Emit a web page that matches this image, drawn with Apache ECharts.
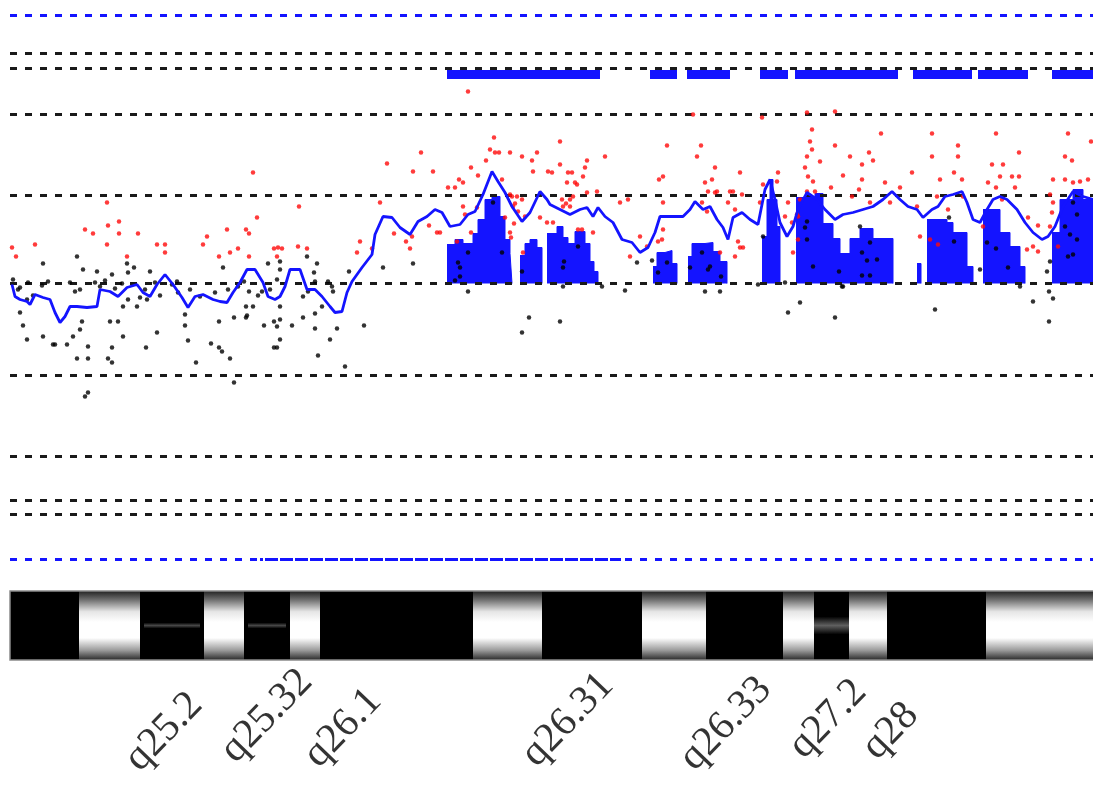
<!DOCTYPE html>
<html>
<head>
<meta charset="utf-8">
<title>3q aCGH</title>
<script src="https://cdn.jsdelivr.net/npm/echarts@6/dist/echarts.min.js"></script>
<style>
  html, body { margin: 0; padding: 0; background: #fff; }
  #chart { width: 1093px; height: 789px; }
</style>
</head>
<body>
<div id="chart"></div>
<script>
// x: probe position (arbitrary units along the region), y: log ratio (arbitrary units)
const thresholds = [2.30, 2.15, 1.69, 0.88, 0, -0.92, -1.73, -2.17, -2.31];
const limits = [2.68, -2.76];
const xStart = 1.0;
const xEnd = 109.3;

// aberration calls (blue bars at the top)
const callStarts = [44.7, 65.0, 68.7, 76.0, 79.5, 91.3, 97.8, 105.2];
const callEnds = [60.0, 67.7, 73.0, 78.8, 89.8, 97.2, 102.8, 109.3];
const callLevel = 2.09;

// moving average
const avgLine = [
  [1.2,-0.01],[1.5,-0.13],[2.0,-0.16],[2.7,-0.18],[3.0,-0.21],[3.5,-0.11],[4.3,-0.14],[5.0,-0.16],[5.5,-0.29],[6.0,-0.39],
  [6.5,-0.33],[7.0,-0.23],[7.7,-0.23],[8.7,-0.24],[9.7,-0.23],[10.0,-0.06],[11.0,-0.08],[11.8,-0.13],[12.7,-0.04],[13.7,-0.01],
  [14.3,-0.09],[15.0,-0.13],[15.7,-0.01],[16.5,0.09],[17.3,-0.01],[18.2,-0.14],[18.8,-0.24],[19.5,-0.13],[20.3,-0.11],[21.3,-0.16],
  [22.0,-0.18],[22.7,-0.19],[23.3,-0.09],[24.0,0.01],[24.7,0.14],[25.5,0.14],[26.3,0.01],[26.8,-0.13],[27.5,-0.16],[28.0,-0.13],
  [28.5,-0.03],[29.0,0.14],[30.0,0.14],[30.7,-0.06],[31.5,-0.06],[32.2,-0.13],[33.0,-0.23],[33.5,-0.29],[34.2,-0.28],[34.7,-0.09],
  [35.2,0.02],[36.2,0.16],[37.2,0.29],[37.5,0.49],[38.3,0.67],[39.2,0.66],[40.0,0.56],[41.0,0.49],[41.8,0.62],[42.7,0.67],
  [43.5,0.74],[44.2,0.71],[45.0,0.57],[46.0,0.59],[46.8,0.69],[47.5,0.72],[48.3,0.89],[49.2,1.12],[49.8,1.02],[50.5,0.91],
  [51.2,0.77],[52.2,0.62],[53.0,0.71],[54.0,0.92],[54.7,0.84],[55.0,0.79],[56.0,0.74],[57.0,0.69],[58.0,0.74],[58.7,0.76],
  [59.3,0.67],[59.8,0.76],[60.5,0.67],[61.3,0.61],[62.2,0.44],[63.2,0.41],[64.0,0.31],[64.8,0.36],[65.5,0.51],[66.0,0.67],
  [67.0,0.67],[68.3,0.67],[69.0,0.74],[69.5,0.82],[70.3,0.74],[71.0,0.77],[71.7,0.64],[72.3,0.56],[72.8,0.44],[73.3,0.66],
  [74.2,0.71],[75.0,0.64],[75.8,0.59],[76.5,0.94],[77.0,1.04],[77.5,0.84],[78.0,0.61],[78.7,0.47],[79.3,0.57],[79.8,0.74],
  [80.7,0.91],[81.7,0.84],[82.5,0.74],[83.5,0.64],[84.3,0.69],[85.3,0.71],[86.3,0.74],[87.3,0.77],[88.3,0.84],[89.2,0.92],
  [90.0,0.84],[90.8,0.77],[91.7,0.74],[92.3,0.66],[93.2,0.74],[93.8,0.77],[94.5,0.87],[95.3,0.89],[96.2,0.92],[96.7,0.81],
  [97.3,0.64],[98.0,0.61],[98.7,0.74],[99.3,0.84],[100.0,0.87],[100.7,0.84],[101.7,0.74],[102.5,0.61],[103.3,0.51],[104.2,0.44],
  [104.8,0.47],[105.5,0.57],[106.3,0.77],[107.3,0.92],[108.3,0.87],[109.3,0.84]
];

// gain histogram, one array per segment (step heights)
const gainSegments = [
  [[44.7,0.39],[45.5,0.44],[46.3,0.4],[47.3,0.5],[47.8,0.64],[48.5,0.84],[49.2,0.87],[50.0,0.67],[50.5,0.44],[51.0,0.3],[51.2,0]],
  [[52.0,0.28],[52.5,0.4],[53.0,0.44],[53.7,0.36],[54.2,0]],
  [[54.7,0.5],[55.7,0.57],[56.3,0.46],[56.8,0.4],[57.5,0.52],[58.5,0.4],[59.0,0.22],[59.4,0.12],[59.8,0]],
  [[65.3,0.17],[65.7,0.31],[66.5,0.33],[67.2,0.2],[67.7,0]],
  [[68.8,0.27],[69.2,0.4],[70.5,0.41],[71.3,0.32],[72.0,0.22],[72.7,0]],
  [[76.2,0.47],[76.7,0.84],[77.0,1.04],[77.3,0.84],[77.7,0.57],[78.0,0]],
  [[79.6,0.86],[81.5,0.9],[82.3,0.6],[83.3,0.45],[84.0,0.3],[85.0,0.45],[86.0,0.55],[87.3,0.45],[89.3,0]],
  [[91.7,0.2],[92.1,0]],
  [[92.7,0.64],[94.7,0.61],[95.3,0.51],[96.7,0.17],[97.3,0]],
  [[98.3,0.74],[100.0,0.51],[101.0,0.37],[102.0,0.17],[102.5,0]],
  [[105.2,0.51],[106.0,0.84],[107.3,0.94],[108.3,0.84],[109.3,0.84]]
];

const redDots = [
  [1.2,0.36],[1.6,0.27],[3.5,0.39],[10.7,0.81],[10.8,0.58],[11.9,0.62],[11.9,0.5],[10.7,0.39],[8.5,0.54],[9.3,0.5],
  [12.7,0.27],[13.8,0.5],[15.7,0.39],[16.5,0.39],[16.5,0.31],[20.3,0.39],[20.7,0.47],[21.9,0.27],[22.7,0.54],[23.0,0.31],
  [23.8,0.35],[24.6,0.54],[24.9,0.5],[24.9,0.27],[25.3,1.11],[25.7,0.66],[27.4,0.35],[29.9,0.77],[29.8,0.37],[30.7,0.35],
  [28.2,0.35],[27.7,0.27],[27.8,0.36],[35.7,0.31],[36.0,0.42],[37.2,0.35],[38.0,0.81],[38.7,1.2],[42.1,1.31],[41.3,1.12],
  [43.3,1.12],[39.4,0.5],[40.6,0.42],[41.0,0.35],[41.2,0.47],[42.9,0.58],[43.7,0.51],[44.0,0.51],[44.8,0.96],[45.5,0.96],
  [45.9,1.04],[46.3,1.01],[46.3,0.77],[45.7,0.42],[46.5,0.69],[47.1,1.16],[47.1,0.51],[47.7,0.76],[47.8,1.08],[48.6,1.23],
  [49.0,1.34],[49.4,1.46],[49.5,1.31],[49.9,1.31],[50.2,1.04],[50.5,0.66],[51.0,1.31],[51.2,0.87],[51.3,0.77],[51.0,0.51],
  [51.7,0.87],[52.2,1.27],[52.2,0.84],[52.3,0.31],[53.2,1.23],[53.7,1.31],[53.3,1.12],[52.5,0.67],[54.0,0.66],[54.7,0.61],
  [54.8,1.12],[46.8,1.92],[56.0,1.42],[60.5,1.27],[58.5,1.16],[57.7,0.99],[56.8,1.11],[56.0,1.19],[55.2,1.11],[56.7,1.01],
  [57.3,0.87],[58.7,0.91],[59.7,0.92],[58.2,0.54],[62.0,0.81],[62.8,0.84],[63.0,0.27],[64.0,0.47],[64.7,0.37],[65.9,1.04],
  [66.3,1.07],[66.7,1.38],[66.3,0.81],[66.3,0.54],[66.2,0.44],[69.3,1.69],[69.7,1.27],[70.1,1.38],[70.5,1.01],[71.5,1.16],
  [71.2,1.04],[71.5,0.91],[70.2,0.81],[73.0,0.92],[74.0,1.11],[72.8,0.81],[74.3,0.36],[73.8,0.42],[73.5,0.27],[76.2,1.66],
  [76.0,0.81],[77.8,1.11],[77.7,1.02],[78.8,0.81],[78.5,0.67],[79.8,0.67],[57.2,1.11],[57.5,1.01],[58.3,1.07],[58.7,1.23],
  [57.0,0.77],[59.3,0.51],[57.8,0.54],[56.3,0.77],[55.3,0.61],[65.8,0.42],[70.8,0.92],[71.7,0.92],[70.7,0.72],[72.0,0.31],
  [73.3,0.92],[74.2,0.89],[73.5,0.74],[74.0,0.36],[76.3,0.99],[79.2,0.61],[79.3,0.31],[80.7,1.71],[81.2,1.54],[81.0,1.42],
  [81.2,1.34],[80.7,1.27],[82.0,1.22],[80.5,1.16],[80.8,1.07],[81.3,1.02],[81.5,0.92],[80.7,0.92],[80.0,0.84],[79.7,0.69],
  [79.8,0.44],[83.5,1.72],[83.5,1.38],[85.0,1.27],[86.2,1.19],[86.9,1.31],[87.3,1.23],[88.1,1.5],[84.3,1.08],[83.1,0.96],
  [86.2,1.04],[85.9,0.94],[85.2,0.87],[87.0,0.81],[88.5,1.01],[90.0,0.96],[89.0,0.81],[91.2,1.11],[91.7,0.77],[92.0,0.47],
  [93.2,1.5],[93.2,1.27],[94.0,1.04],[93.7,0.87],[93.0,0.44],[93.8,0.39],[95.8,1.38],[95.8,1.27],[95.4,1.11],[96.2,1.04],
  [96.3,0.87],[94.8,0.74],[99.6,1.5],[99.2,1.19],[100.3,1.19],[100.0,1.07],[101.2,1.07],[101.9,1.07],[101.9,1.31],[98.8,1.01],
  [99.6,0.96],[101.5,0.96],[98.3,0.57],[100.2,0.84],[102.8,0.66],[103.8,0.58],[103.3,0.37],[103.8,0.32],[102.7,0.34],[106.8,1.5],
  [106.5,1.27],[107.2,1.23],[105.3,1.04],[106.5,1.04],[107.3,1.01],[108.0,1.02],[108.8,1.04],[109.1,1.42],[105.0,0.89],[105.3,0.81],
  [105.2,0.71],[105.8,0.37],[105.0,0.57],[51.0,0.89],[51.5,0.8],[51.8,0.72],[51.4,0.6],[51.1,0.46],[56.2,0.84],[56.6,0.8],[57.0,0.84]
];

const blackDots = [
  [4.3,0.2],[7.7,0.27],[2.0,-0.04],[2.7,-0.16],[2.0,-0.29],[2.3,-0.42],[2.7,-0.56],[4.3,-0.53],[5.3,-0.61],[6.7,-0.61],
  [7.3,-0.53],[7.7,-0.75],[8.8,-0.75],[8.8,-0.63],[8.0,-0.46],[8.2,-0.38],[8.3,0.14],[9.7,0.12],[11.2,0.09],[12.7,0.2],
  [13.4,0.16],[12.8,0.11],[11.0,-0.38],[11.8,-0.38],[12.3,-0.53],[11.2,-0.64],[10.8,-0.75],[11.2,-0.79],[8.5,-1.13],[8.8,-1.09],
  [15.0,0.12],[15.7,-0.49],[14.6,-0.64],[12.3,-0.23],[13.7,-0.23],[14.7,-0.16],[17.7,0.02],[18.5,-0.31],[18.5,-0.42],[18.8,-0.57],
  [19.6,-0.79],[21.1,-0.6],[21.9,-0.64],[22.2,-0.68],[23.0,-0.75],[23.4,-0.99],[21.9,-0.38],[23.4,-0.34],[22.3,0.16],[24.6,-0.23],
  [25.3,-0.23],[24.6,-0.34],[24.9,-0.08],[26.4,-0.42],[26.8,0.2],[27.4,-0.64],[27.4,-0.38],[1.3,0.04],[1.8,-0.06],[2.8,0.01],
  [3.3,-0.12],[4.2,-0.02],[4.8,0.02],[7.0,0.01],[7.5,-0.08],[8.0,-0.06],[9.5,0.01],[10.0,-0.03],[10.5,0.03],[11.5,-0.05],
  [12.2,0],[12.8,-0.16],[14.0,-0.14],[14.5,-0.06],[15.5,0.01],[16.0,-0.12],[17.2,-0.01],[17.8,-0.09],[19.0,-0.06],[20.0,-0.13],
  [21.5,-0.09],[22.8,-0.06],[23.8,-0.03],[24.4,0.02],[25.8,-0.12],[26.2,-0.08],[27.0,-0.06],[24.7,-0.32],[5.5,-0.61],[28.0,0.22],
  [28.0,0.14],[27.7,0.04],[28.0,-0.23],[28.0,-0.36],[27.7,-0.43],[28.0,-0.56],[27.7,-0.64],[29.2,-0.42],[30.3,-0.34],[30.7,0.27],
  [31.7,0.2],[31.4,0.11],[31.5,0.02],[32.8,0.02],[33.2,-0.03],[33.3,-0.08],[30.8,-0.08],[30.3,-0.13],[32.2,-0.23],[31.5,-0.3],
  [31.5,-0.45],[33.0,-0.56],[33.7,-0.45],[31.8,-0.72],[34.5,-0.83],[34.9,0.12],[36.4,-0.42],[38.3,0.16],[41.3,0.2],[45.8,0.21],
  [46.8,0.31],[46.8,-0.08],[45.5,0.03],[49.3,0.81],[50.2,0.31],[52.2,0.12],[52.9,-0.34],[52.2,-0.49],[46.0,0.16],[46.0,0.07],
  [56.0,-0.38],[56.3,0.16],[56.4,0.22],[56.3,-0.03],[57.8,0.37],[60.2,-0.03],[62.5,-0.07],[63.7,0.21],[65.2,0.23],[66.7,0.21],
  [65.8,0.11],[70.5,-0.08],[72.0,-0.08],[70.2,0.31],[71.0,0.17],[69.0,0.16],[72.1,0.07],[75.8,-0.01],[78.8,-0.29],[80.0,-0.19],
  [78.5,0.01],[76.3,0.47],[80.5,0.56],[80.7,0.62],[81.3,0.17],[80.7,0.44],[70.8,0.14],[83.5,-0.34],[84.2,-0.03],[83.9,0.12],
  [86.2,0.08],[87.0,0.08],[86.2,0.31],[86.7,0.23],[87.0,0.41],[87.7,0.24],[86.0,0.57],[93.5,-0.26],[94.9,0.66],[95.4,0.42],
  [98.0,0.14],[98.7,0.41],[99.6,0.35],[100.8,0.16],[102.0,-0.03],[103.3,-0.18],[104.9,-0.38],[105.3,-0.15],[104.9,-0.08],[104.7,0.12],
  [105.0,0.22],[107.0,0.49],[107.7,0.69],[107.3,0.29],[106.8,0.27],[106.5,0.57],[107.7,0.44],[107.3,0.81],[84.3,-0.03]
];

// ideogram
const bandEdges = [1.0, 7.9, 14.0, 20.4, 24.4, 29.0, 32.0, 47.3, 54.2, 64.2, 70.6, 78.3, 81.4, 84.9, 88.7, 98.6, 109.3];
const bandStains = ['gpos','gneg','gvar','gneg','gvar','gneg','gpos','gneg','gpos','gneg','gpos','gneg','gpos25','gneg','gpos','gneg'];
const bandLabels = ['q25.2', 'q25.32', 'q26.1', 'q26.31', 'q26.33', 'q27.2', 'q28'];
const bandLabelX = [19.6, 30.6, 37.5, 60.7, 76.5, 86.0, 91.2];

const chart = echarts.init(document.getElementById('chart'));

const BLUE = '#1414ff';

function hLine(v, color, from, to, offset) {
  return {
    type: 'line', xAxisIndex: 0, yAxisIndex: 0, silent: true, symbol: 'none', z: 4,
    data: [[from, v], [to, v]],
    lineStyle: { color: color, width: 3, type: [7, 8], dashOffset: offset || 0 }
  };
}

function renderBand(params, api) {
  const a = api.coord([api.value(0), 1]);
  const b = api.coord([api.value(1), 0]);
  const stain = bandStains[api.value(2)];
  const shape = { x: a[0], y: a[1], width: b[0] - a[0], height: b[1] - a[1] };
  if (stain === 'gneg') {
    return {
      type: 'rect', shape: shape,
      style: {
        fill: new echarts.graphic.LinearGradient(0, 0, 0, 1, [
          { offset: 0, color: '#222' }, { offset: 0.12, color: '#6a6a6a' },
          { offset: 0.3, color: '#e6e6e6' }, { offset: 0.45, color: '#fff' },
          { offset: 0.68, color: '#fff' }, { offset: 0.86, color: '#9a9a9a' },
          { offset: 1, color: '#2a2a2a' }
        ])
      }
    };
  }
  const kids = [{ type: 'rect', shape: shape, style: { fill: '#000' } }];
  if (stain === 'gvar' || stain === 'gpos25') {
    const h = stain === 'gvar' ? 6 : 18;
    const inset = stain === 'gvar' ? 4 : 0;
    const mid = (a[1] + b[1]) / 2;
    const c = stain === 'gvar' ? '70,70,70' : '95,95,95';
    kids.push({
      type: 'rect',
      shape: { x: a[0] + inset, y: mid - h / 2, width: shape.width - 2 * inset, height: h },
      style: {
        fill: new echarts.graphic.LinearGradient(0, 0, 0, 1, [
          { offset: 0, color: 'rgba(' + c + ',0)' },
          { offset: 0.5, color: 'rgba(' + c + ',1)' },
          { offset: 1, color: 'rgba(' + c + ',0)' }
        ])
      }
    });
  }
  return { type: 'group', children: kids };
}

const series = [];

gainSegments.forEach(function (seg) {
  series.push({
    type: 'line', xAxisIndex: 0, yAxisIndex: 0, silent: true, symbol: 'none', step: 'end', z: 1,
    data: seg,
    lineStyle: { color: BLUE, width: 1 },
    areaStyle: { color: BLUE, opacity: 1 }
  });
});

callStarts.forEach(function (s, i) {
  series.push({
    type: 'line', xAxisIndex: 0, yAxisIndex: 0, silent: true, symbol: 'none', z: 2,
    data: [[s, callLevel], [callEnds[i], callLevel]],
    lineStyle: { color: BLUE, width: 9, cap: 'butt' }
  });
});

thresholds.forEach(function (v) { series.push(hLine(v, '#1a1a1a', xStart, xEnd)); });
limits.forEach(function (v) { series.push(hLine(v, BLUE, xStart, xEnd)); });
// overlapping stretch on the lower limit line
series.push(hLine(limits[1], BLUE, 26.0, 62.1, 4));

series.push({
  type: 'scatter', xAxisIndex: 0, yAxisIndex: 0, silent: true, z: 5,
  symbolSize: 4.5, data: blackDots, itemStyle: { color: '#000' }
});
series.push({
  type: 'scatter', xAxisIndex: 0, yAxisIndex: 0, silent: true, z: 5,
  symbolSize: 4.5, data: redDots, itemStyle: { color: '#ff0a0a' }
});
series.push({
  type: 'line', xAxisIndex: 0, yAxisIndex: 0, silent: true, symbol: 'none', z: 6,
  data: avgLine, lineStyle: { color: BLUE, width: 2.8 }
});

// ideogram
series.push({
  type: 'custom', xAxisIndex: 1, yAxisIndex: 1, silent: true,
  renderItem: renderBand,
  encode: { x: [0, 1] },
  data: bandStains.map(function (s, i) { return [bandEdges[i], bandEdges[i + 1], i]; })
});
series.push({
  type: 'custom', xAxisIndex: 1, yAxisIndex: 1, silent: true, z: 3,
  renderItem: function (params, api) {
    const a = api.coord([api.value(0), 1]);
    const b = api.coord([api.value(1), 0]);
    return {
      type: 'rect',
      shape: { x: a[0], y: a[1], width: b[0] - a[0] + 2, height: b[1] - a[1] },
      style: { fill: 'none', stroke: '#8a8a8a', lineWidth: 1.5 }
    };
  },
  encode: { x: [0, 1] },
  data: [[bandEdges[0], bandEdges[bandEdges.length - 1]]]
});

// band names
const labelDrop = [0.3, 0.12, 0.27, 0.15, 0.18, 0.2, 0.38];
series.push({
  type: 'scatter', xAxisIndex: 2, yAxisIndex: 2, silent: true, symbolSize: 0,
  data: bandLabels.map(function (n, i) { return { name: n, value: [bandLabelX[i], labelDrop[i]] }; }),
  label: {
    show: true, formatter: '{b}', position: 'inside', align: 'right', verticalAlign: 'middle',
    rotate: 46, color: '#000', fontFamily: 'Liberation Serif', fontSize: 41
  }
});

const xAx = function (g) { return { type: 'value', gridIndex: g, min: 0, max: 109.3, show: false }; };

chart.setOption({
  animation: false,
  backgroundColor: '#fff',
  grid: [
    { left: 0, right: 0, top: 3.5, height: 560 },
    { left: 0, right: 0, top: 591, height: 69 },
    { left: 0, right: 0, top: 660, height: 129 }
  ],
  xAxis: [xAx(0), xAx(1), xAx(2)],
  yAxis: [
    { type: 'value', gridIndex: 0, min: -2.8, max: 2.8, show: false },
    { type: 'value', gridIndex: 1, min: 0, max: 1, show: false },
    { type: 'value', gridIndex: 2, min: 0, max: 1, inverse: true, show: false }
  ],
  series: series
});
</script>
</body>
</html>
